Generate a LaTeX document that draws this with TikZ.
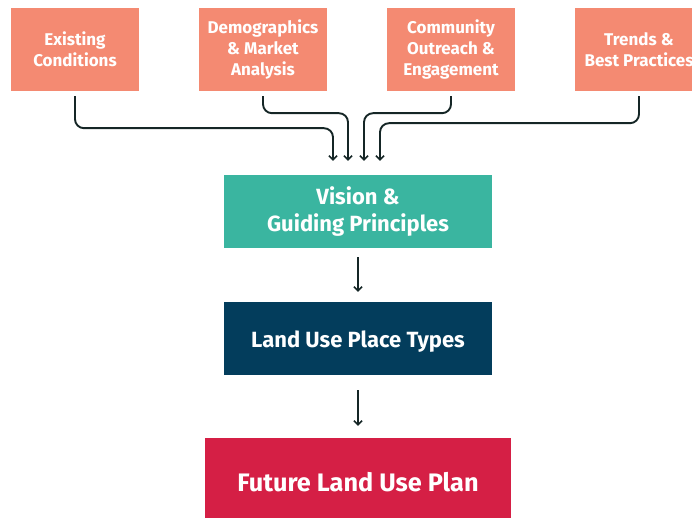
\documentclass[tikz,border=0pt]{standalone}
\usepackage{fontspec}
\setmainfont{Fira Sans}
\usetikzlibrary{arrows.meta}
\definecolor{salmon}{HTML}{F48A72}
\definecolor{tealc}{HTML}{3AB5A0}
\definecolor{navy}{HTML}{033D5C}
\definecolor{crimson}{HTML}{D51F45}
\definecolor{linec}{HTML}{152626}
\begin{document}
\begin{tikzpicture}[x=1pt,y=-1pt,
  topbox/.style={fill=salmon,text=white,minimum width=128pt,minimum height=83pt,inner sep=0pt,align=center,font=\bfseries\fontsize{17}{21}\selectfont},
  midbox/.style={text=white,minimum width=268pt,minimum height=73pt,inner sep=0pt,align=center,font=\bfseries\fontsize{22}{27}\selectfont},
  conn/.style={draw=linec,line width=1.9pt,rounded corners=9pt,-{Straight Barb[length=4pt,width=8pt,line width=1.6pt]}},
  flow/.style={draw=linec,line width=1.9pt,-{Straight Barb[length=4pt,width=8pt,line width=1.6pt]}}]
\path[use as bounding box] (0,0) rectangle (692,518);
\clip (0,0) rectangle (692,518);
\node[topbox] (e) at (75,49.5) {Existing\\Conditions};
\node[topbox] (d) at (263,49.5) {Demographics\\\& Market\\Analysis};
\node[topbox] (c) at (451,49.5) {Community\\Outreach \&\\Engagement};
\node[topbox] (t) at (639,49.5) {Trends \&\\Best Practices};
\node[midbox,fill=tealc] (v) at (358,211.5) {Vision \&\\Guiding Principles};
\node[midbox,fill=navy] (l) at (358,338.5) {\raisebox{-3.5pt}[\height][\depth]{Land Use Place Types}};
\node[fill=crimson,text=white,minimum width=306pt,minimum height=80pt,inner sep=0pt,font=\bfseries\fontsize{25.3}{30}\selectfont] (f) at (358,478) {\raisebox{-4pt}[\height][\depth]{Future Land Use Plan}};
\coordinate (t1) at ([xshift=-25pt,yshift=14pt]v.north);
\coordinate (t2) at ([xshift=-10pt,yshift=14pt]v.north);
\coordinate (t3) at ([xshift=6pt,yshift=14pt]v.north);
\coordinate (t4) at ([xshift=22pt,yshift=14pt]v.north);
\draw[conn] ([yshift=-5pt]e.south) |- ([yshift=-37pt]t1 |- e.south) -- (t1);
\draw[conn] ([yshift=-5pt]d.south) |- ([yshift=-22pt]t2 |- d.south) -- (t2);
\draw[conn] ([yshift=-5pt]c.south) |- ([yshift=-22pt]t3 |- c.south) -- (t3);
\draw[conn] ([yshift=-5pt]t.south) |- ([yshift=-32pt]t4 |- t.south) -- (t4);
\draw[flow] ([yshift=-9pt]v.south) -- ([yshift=10pt]l.north);
\draw[flow] ([yshift=-15pt]l.south) -- ([yshift=12pt]f.north);
\end{tikzpicture}
\end{document}
